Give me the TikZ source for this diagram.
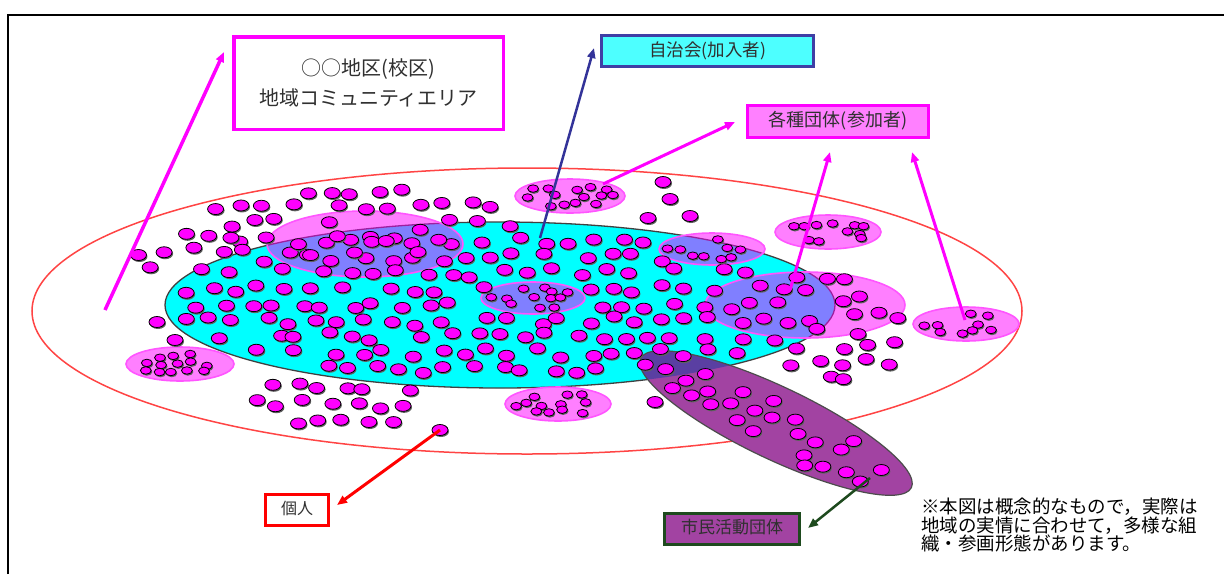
\documentclass[tikz,border=0pt]{standalone}
\usepackage{fontspec}
\newfontfamily\jp{Noto Sans CJK JP}
\usetikzlibrary{arrows.meta,calc}
\definecolor{mag}{HTML}{FF00FF}
\definecolor{pinkline}{HTML}{FF55FF}
\definecolor{cyanfill}{HTML}{00FFFF}
\definecolor{redline}{HTML}{FF4444}
\definecolor{navy}{HTML}{333399}
\definecolor{purp}{HTML}{A243A2}
\definecolor{purpover}{HTML}{5A3FA2}
\definecolor{darkgreen}{HTML}{1E4A1E}
\definecolor{boxcyan}{HTML}{4DFFFF}
\definecolor{boxblue}{HTML}{3F3FA5}
\definecolor{boxpink}{HTML}{FF80FF}
\definecolor{txtgray}{HTML}{303030}
\definecolor{dotsh}{HTML}{606060}
\tikzset{
  declare function={inel(\pa,\pb,\pc,\pd)=(((\pa)/(\pc))*((\pa)/(\pc))+((\pb)/(\pd))*((\pb)/(\pd)))<1;},
  grp/.style={fill=mag, fill opacity=0.5, draw=pinkline, draw opacity=1, line width=1.6pt},
  arr/.style={line width=3pt, -{Triangle[length=10pt,width=8pt]}},
  lbl/.style={inner sep=0pt, font=\jp, text=txtgray},
}
\def\dang{0}
\newcommand\dotat[3]{%
  \fill[dotsh] ([xshift=1pt,yshift=-1.5pt]#1,#2) ellipse [x radius=#3*8pt, y radius=#3*5.5pt];
  \filldraw[fill=mag, draw=black, line width=0.8pt] (#1,#2) ellipse [x radius=#3*8pt, y radius=#3*5.5pt];}
\newcommand\dotfield[9]{%
  \pgfmathtruncatemacro\dnx{ceil(#3/#5)}%
  \pgfmathtruncatemacro\dny{ceil(#4/#6)}%
  \foreach \dj in {-\dny,...,\dny}{%
    \foreach \di in {-\dnx,...,\dnx}{%
      \pgfmathsetmacro\du{(\di+0.5*mod(abs(\dj),2))*#5+0.3*#5*rand}%
      \pgfmathsetmacro\dv{\dj*#6+0.3*#6*rand}%
      \pgfmathsetmacro\px{#1+\du*cos(\dang)-\dv*sin(\dang)}%
      \pgfmathsetmacro\py{#2+\du*sin(\dang)+\dv*cos(\dang)}%
      \pgfmathtruncatemacro\dok{inel(\du,\dv,#3,#4)*(rnd<#8)*(1-(#9))}%
      \ifnum\dok=1 \dotat{\px}{\py}{#7}\fi
    }%
  }%
}
\begin{document}
\begin{tikzpicture}[x=1pt,y=-1pt]
\useasboundingbox (0,0) rectangle (1224,574);
\fill[white] (0,0) rectangle (1224,574);
\draw[line width=2pt] (8,574) -- (8,14.5) -- (1224,14.5);

% community area
\draw[redline, line width=1.5pt] (527,311) ellipse [x radius=495pt, y radius=143pt];
% jichikai
\filldraw[fill=cyanfill, draw=black!75, line width=1.3pt] (500,305) ellipse [x radius=335pt, y radius=83pt];

% groups
\path[grp] (365,244) ellipse [x radius=98pt, y radius=33pt];
\path[grp] (180,364) ellipse [x radius=54pt, y radius=17pt];
\path[grp] (570,196) ellipse [x radius=55pt, y radius=17pt];
\path[grp] (533,298) ellipse [x radius=52pt, y radius=16pt];
\path[grp] (712,249) ellipse [x radius=53pt, y radius=16pt];
\path[grp] (828,232) ellipse [x radius=53pt, y radius=17pt];
\path[grp] (805,305) ellipse [x radius=100pt, y radius=33pt];
\path[grp] (966,324) ellipse [x radius=53pt, y radius=17pt];
\path[grp] (558,404) ellipse [x radius=53pt, y radius=17pt];

% citizen activity group
\begin{scope}[shift={(776,423)}, rotate=-25.5]
  \fill[purp] (0,0) ellipse [x radius=150pt, y radius=36pt];
\end{scope}
\begin{scope}
  \clip (500,305) ellipse [x radius=335pt, y radius=83pt];
  \begin{scope}[shift={(776,423)}, rotate=-25.5]
    \fill[purpover] (0,0) ellipse [x radius=150pt, y radius=36pt];
  \end{scope}
\end{scope}
\begin{scope}[shift={(776,423)}, rotate=-25.5]
  \draw[black!70, line width=1.2pt] (0,0) ellipse [x radius=150pt, y radius=36pt];
\end{scope}

% individuals
\pgfmathsetseed{7}
\dotfield{500}{305}{320}{75}{25}{16}{1}{0.88}{inel(\px-533,\py-298,56,20)+inel(\px-712,\py-249,57,20)}
\dotfield{365}{240}{88}{26}{24}{14}{1}{0.55}{0}
\dotfield{355}{222}{160}{34}{25}{16}{1}{0.85}{inel(\px-500,\py-305,328,78)+inel(\px-365,\py-240,92,30)}
\dotfield{195}{252}{58}{26}{25}{16}{1}{0.85}{inel(\px-500,\py-305,328,78)}
\dotfield{838}{330}{70}{52}{24}{16}{1}{0.85}{inel(\px-500,\py-305,328,78)}
\dotfield{330}{404}{95}{28}{25}{16}{1}{0.9}{inel(\px-500,\py-305,330,80)}
\dotfield{180}{364}{46}{12}{15}{8}{0.68}{0.85}{0}
\dotfield{570}{196}{47}{12}{15}{8}{0.68}{0.85}{0}
\dotfield{533}{298}{44}{11}{15}{8}{0.68}{0.85}{0}
\dotfield{712}{249}{45}{11}{15}{8}{0.68}{0.85}{0}
\dotfield{828}{232}{45}{12}{15}{8}{0.68}{0.85}{0}
\dotfield{966}{324}{45}{12}{15}{8}{0.68}{0.85}{0}
\dotfield{558}{404}{45}{12}{15}{8}{0.68}{0.85}{0}
\def\dang{25.5}
\dotfield{776}{423}{135}{28}{24}{15}{1}{0.85}{0}
\def\dang{0}
\foreach \x/\y in {663/182, 670/199, 648/218, 690/216, 157/322, 175/340, 655/402}
  {\dotat{\x}{\y}{1}}
\dotat{440}{430}{1}

% labels
\node[draw=mag, line width=3.5pt, fill=white, minimum width=269.5pt, minimum height=92.5pt,
      lbl, align=center, font=\jp\fontsize{20}{30}\selectfont] (area) at (368.5,83)
      {○○地区(校区)\\地域コミュニティエリア};
\node[draw=boxblue, line width=3pt, fill=boxcyan, minimum width=212pt, minimum height=31pt,
      lbl, font=\jp\fontsize{17.5}{17.5}\selectfont] (jichi) at (707.5,51) {\raisebox{4pt}{自治会(加入者)}};
\node[draw=mag, line width=3pt, fill=boxpink, minimum width=181pt, minimum height=32pt,
      lbl, font=\jp\fontsize{18}{18}\selectfont] (dantai) at (838,121.5) {\raisebox{4.5pt}{各種団体(参加者)}};
\node[draw=red, line width=3pt, fill=white, minimum width=63pt, minimum height=31pt,
      lbl, font=\jp\fontsize{16}{16}\selectfont] (kojin) at (297,510) {\raisebox{5pt}{個人}};
\node[draw=darkgreen, line width=3pt, fill=purp, minimum width=135pt, minimum height=31pt,
      lbl, font=\jp\fontsize{17}{17}\selectfont] (shimin) at (732,529) {\raisebox{6pt}{市民活動団体}};
\node[anchor=north west, inner sep=0pt, align=left, text=black,
      font=\jp\fontsize{18.5}{18.5}\selectfont] (note) at (921,498)
      {※本図は概念的なもので，実際は\\地域の実情に合わせて，多様な組\\織・参画形態があります。};

% connectors
\coordinate (a1s) at (105,310); \coordinate (a1e) at (224,52);
\coordinate (a2s) at (540,238); \coordinate (a2e) at (594,48);
\coordinate (a3s) at (603,184); \coordinate (a3e) at (735,122);
\coordinate (a4s) at (790,290); \coordinate (a4e) at (830,152);
\coordinate (a5s) at (965,320); \coordinate (a5e) at (912,152);
\coordinate (a6s) at (440,430); \coordinate (a6e) at (337,505);
\coordinate (a7s) at (870,478); \coordinate (a7e) at (808,528);
\draw[arr, mag, line width=3.5pt] (a1s) -- (a1e);
\draw[arr, navy, line width=2.5pt] (a2s) -- (a2e);
\draw[arr, mag] (a3s) -- (a3e);
\draw[arr, mag] (a4s) -- (a4e);
\draw[arr, mag] (a5s) -- (a5e);
\draw[arr, red] (a6s) -- (a6e);
\draw[arr, darkgreen, line width=2.5pt] (a7s) -- (a7e);
\end{tikzpicture}
\end{document}
